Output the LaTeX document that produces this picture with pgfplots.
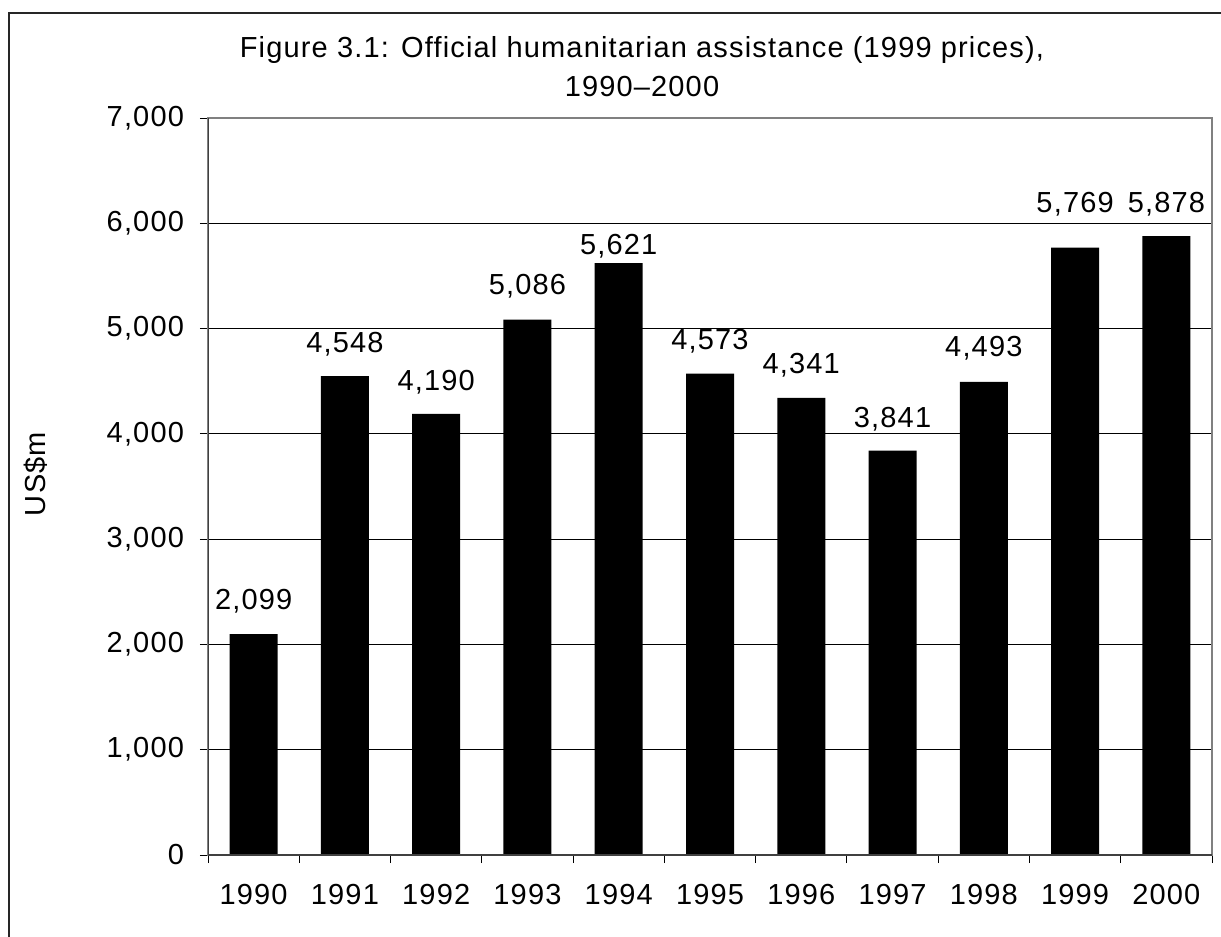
\documentclass[border=0pt]{standalone}
\usepackage{pgfplots}
\pgfplotsset{compat=1.18}
\usepackage{fontspec}
\setmainfont{Liberation Sans}[LetterSpace=4]
\newcommand\chf{\fontsize{14.5}{17}\selectfont}
\begin{document}
\begin{tikzpicture}
\path[use as bounding box] (0,0) rectangle (610.5pt,-468.5pt);
\draw[line width=1pt, black!85] (4.5pt,-468.5pt) -- (4.5pt,-6.5pt) -- (610.5pt,-6.5pt);
\node[font=\chf, anchor=base, inner sep=0pt] at (321pt,-28.5pt) {Figure 3.1: Official humanitarian assistance (1999 prices),};
\node[font=\chf, anchor=base, inner sep=0pt] at (321pt,-48pt) {1990–2000};
\node[font=\chf, rotate=90, anchor=center, inner sep=0pt] at (18pt,-237pt) {US\$m};
\begin{axis}[
  at={(104pt,-427.5pt)}, anchor=south west,
  scale only axis, width=502pt, height=368.5pt,
  xmin=-0.5, xmax=10.5, ymin=0, ymax=7000,
  ytick={0,1000,...,7000},
  ymajorgrids, grid style={black, line width=0.5pt},
  xtick={-0.5,0.5,...,10.5}, xticklabels={},
  extra x ticks={0,1,2,3,4,5,6,7,8,9,10},
  extra x tick labels={1990,1991,1992,1993,1994,1995,1996,1997,1998,1999,2000},
  extra x tick style={major tick length=0pt, grid=none},
  tick pos=left,
  tick align=outside, major tick length=4pt,
  tick style={black, line width=0.5pt},
  axis line style={draw=black!50, line width=1pt},
  tick label style={font=\chf},
  /pgf/number format/assume math mode=true,
  y tick label style={/pgf/number format/1000 sep={,}, /pgf/number format/fixed, xshift=-4.5pt},
  xticklabel style={yshift=-11pt},
]
\addplot[ybar, bar width=24pt, fill=black, draw=none] coordinates {
(0,2099) (1,4548) (2,4190) (3,5086) (4,5621) (5,4573) (6,4341) (7,3841) (8,4493) (9,5769) (10,5878)};
\addplot[draw=none, mark=none, nodes near coords, point meta=explicit symbolic,
  every node near coord/.style={font=\chf, anchor=base, inner sep=0pt, black}]
  table[meta=lab] {
x y lab
0 2336 2,099
1 4777 4,548
2 4416 4,190
3 5319 5,086
4 5708 5,621
5 4806 4,573
6 4578 4,341
7 4056 3,841
8 4739 4,493
9 6107 5,769
10 6107 5,878
};
\draw[black!75, line width=1pt] (rel axis cs:0,1) -- (rel axis cs:0,0) -- (rel axis cs:1,0);
\end{axis}
\end{tikzpicture}
\end{document}
